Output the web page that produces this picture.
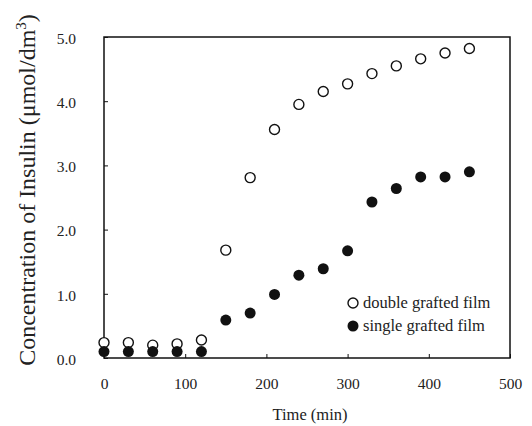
<!DOCTYPE html>
<html lang="en">
  <head>
    <meta charset="UTF-8" />
    <script src="https://cdn.jsdelivr.net/npm/d3@7"></script>
    <style>
      * {
        margin: 0;
        padding: 0;
      }
      body {
        background: #fff;
      }
      #container svg {
        display: block;
      }
    </style>
    <title>Insulin release</title>
  </head>
  <body>
    <div id="container"></div>
  </body>
  <script>
    // time points (min)
    const times = [0, 30, 60, 90, 120, 150, 180, 210, 240, 270, 300, 330, 360, 390, 420, 450];
    const doubleFilm = [0.24, 0.24, 0.2, 0.22, 0.28, 1.68, 2.81, 3.56, 3.95, 4.15, 4.27, 4.43, 4.55, 4.66, 4.75, 4.82];
    const singleFilm = [0.1, 0.1, 0.1, 0.1, 0.1, 0.59, 0.7, 0.99, 1.29, 1.39, 1.67, 2.43, 2.64, 2.82, 2.82, 2.9];
    const xTicks = [0, 100, 200, 300, 400, 500];
    const yTicks = [0, 1, 2, 3, 4, 5];
    const legendLabels = ['double grafted film', 'single grafted film'];

    const width = 532;
    const height = 426;
    const margin = { top: 37, right: 22, bottom: 68, left: 104 };
    const font = '"Liberation Serif", "Times New Roman", serif';

    const svg = d3
      .select('#container')
      .append('svg')
      .attr('width', width)
      .attr('height', height);

    const x = d3
      .scaleLinear()
      .domain([0, 500])
      .range([margin.left, width - margin.right]);
    const y = d3
      .scaleLinear()
      .domain([0, 5])
      .range([height - margin.bottom, margin.top]);

    // frame
    svg
      .append('rect')
      .attr('x', x(0))
      .attr('y', y(5))
      .attr('width', x(500) - x(0))
      .attr('height', y(0) - y(5))
      .attr('fill', 'none')
      .attr('stroke', '#111')
      .attr('stroke-width', 1.5);

    // x axis (ticks point inward)
    const xAxis = svg
      .append('g')
      .attr('transform', `translate(0,${y(0)})`)
      .call(
        d3
          .axisBottom(x)
          .tickValues(xTicks)
          .tickSizeInner(-4)
          .tickSizeOuter(0)
          .tickPadding(20)
          .tickFormat(d3.format('d'))
      );
    xAxis.select('.domain').remove();
    xAxis.selectAll('line').attr('stroke', '#111');
    xAxis
      .selectAll('text')
      .attr('font-family', font)
      .attr('font-size', 15.5)
      .attr('fill', '#222');

    // y axis
    const yAxis = svg
      .append('g')
      .attr('transform', `translate(${x(0)},0)`)
      .call(
        d3
          .axisLeft(y)
          .tickValues(yTicks)
          .tickSizeInner(-4)
          .tickSizeOuter(0)
          .tickPadding(28)
          .tickFormat(d3.format('.1f'))
      );
    yAxis.select('.domain').remove();
    yAxis.selectAll('line').attr('stroke', '#111');
    yAxis
      .selectAll('text')
      .attr('font-family', font)
      .attr('font-size', 15.5)
      .attr('fill', '#222')
      .attr('dy', '0.4em');

    // axis titles
    svg
      .append('text')
      .text('Time (min)')
      .attr('x', 310)
      .attr('y', 420)
      .attr('text-anchor', 'middle')
      .attr('font-family', font)
      .attr('font-size', 16.5)
      .attr('fill', '#222');

    const yTitle = svg
      .append('text')
      .attr('transform', 'translate(35,190) rotate(-90)')
      .attr('text-anchor', 'middle')
      .attr('font-family', font)
      .attr('font-size', 24)
      .attr('fill', '#222');
    yTitle.append('tspan').text('Concentration of Insulin (\u03bcmol/dm');
    yTitle.append('tspan').text('3').attr('font-size', 15).attr('dy', -9);
    yTitle.append('tspan').text(')').attr('dy', 9);

    // points
    const r = 5;
    svg
      .append('g')
      .selectAll('circle')
      .data(times.map((t, i) => [t, doubleFilm[i]]))
      .join('circle')
      .attr('cx', (d) => x(d[0]))
      .attr('cy', (d) => y(d[1]))
      .attr('r', r)
      .attr('fill', '#fff')
      .attr('stroke', '#111')
      .attr('stroke-width', 1.4);

    svg
      .append('g')
      .selectAll('circle')
      .data(times.map((t, i) => [t, singleFilm[i]]))
      .join('circle')
      .attr('cx', (d) => x(d[0]))
      .attr('cy', (d) => y(d[1]))
      .attr('r', r + 0.5)
      .attr('fill', '#111');

    // legend
    const legend = svg.append('g').attr('transform', 'translate(353,303)');
    legend
      .selectAll('circle')
      .data(legendLabels)
      .join('circle')
      .attr('cx', 0)
      .attr('cy', (d, i) => i * 23)
      .attr('r', (d, i) => (i ? 5.5 : 5))
      .attr('fill', (d, i) => (i ? '#111' : '#fff'))
      .attr('stroke', '#111')
      .attr('stroke-width', (d, i) => (i ? 0 : 1.4));
    legend
      .selectAll('text')
      .data(legendLabels)
      .join('text')
      .text((d) => d)
      .attr('x', 10)
      .attr('y', (d, i) => i * 23 + 5)
      .attr('font-family', font)
      .attr('font-size', 16.5)
      .attr('fill', '#222');
  </script>
</html>
